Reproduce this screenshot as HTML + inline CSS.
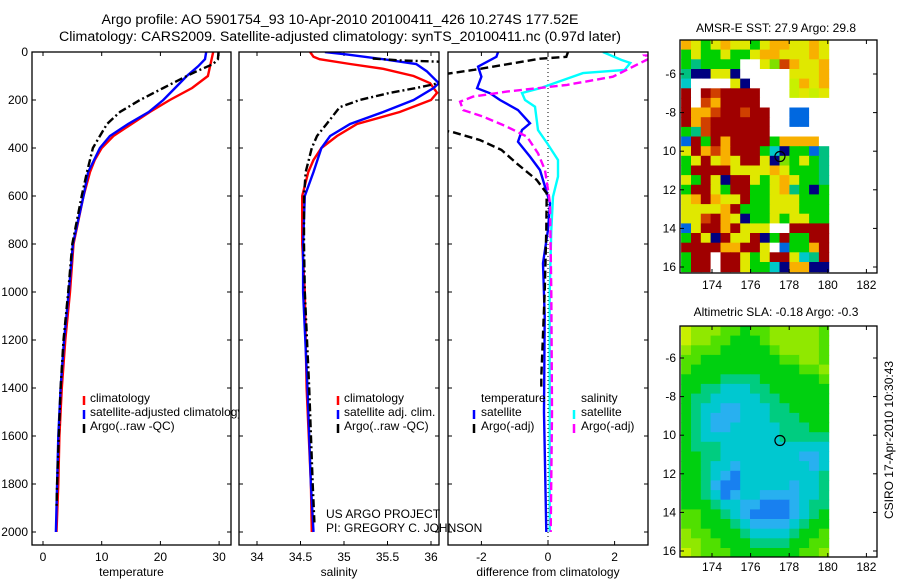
<!DOCTYPE html>
<html><head><meta charset="utf-8"><style>
html,body{margin:0;padding:0;background:#fff;}
svg{display:block;font-family:"Liberation Sans",sans-serif;}
text{fill:#000;}
</style></head><body>
<svg id="fig" width="900" height="580" viewBox="0 0 900 580" xmlns="http://www.w3.org/2000/svg">
<defs>
<clipPath id="c1"><rect x="32" y="52" width="199" height="493"/></clipPath>
<clipPath id="c2"><rect x="239" y="52" width="200" height="493"/></clipPath>
<clipPath id="c3"><rect x="448" y="52" width="200" height="493"/></clipPath>
<clipPath id="cleg"><rect x="32" y="52" width="207" height="493"/></clipPath>
</defs>
<text x="340" y="24" font-size="14.2" text-anchor="middle">Argo profile: AO 5901754_93 10-Apr-2010 20100411_426 10.274S 177.52E</text>
<text x="340" y="41" font-size="14.2" text-anchor="middle">Climatology: CARS2009. Satellite-adjusted climatology: synTS_20100411.nc (0.97d later)</text>
<g id="g"></g>
</svg>
<script>
// ---------- data ----------
const tempClimDepth=[0,100,150,200,250,300,350,400,450,500,600,800,1000,1200,1400,1600,1800,2000];
const tempClimVal=[29.0,28.1,25.4,21.6,18.2,15.1,12.0,10.0,8.8,8.0,6.9,5.2,4.6,3.8,3.2,2.8,2.6,2.3];
const tempSatDepth=[0,30,60,100,150,200,250,300,350,400,450,500,600,800,1000,1200,1400,1600,1800,2000];
const tempSatVal=[27.8,27.6,26.4,24.5,22.5,20.5,18.0,14.5,11.4,9.7,8.7,7.7,6.9,5.1,4.4,3.6,3.0,2.6,2.4,2.2];
const tempArgoDepth=[0,30,50,80,100,150,200,250,300,350,400,500,600,800,1000,1200,1400,1600,1800,1900];
const tempArgoVal=[29.9,29.8,29.0,26.2,24.5,20.5,16.5,13.1,10.9,9.7,8.5,7.5,6.6,5.0,4.3,3.5,3.0,2.7,2.4,2.3];
const salClimDepth=[0,20,30,50,70,100,130,170,200,250,300,350,400,450,500,600,800,1000,1400,1800,2000];
const salClimVal=[34.61,34.65,34.72,35.07,35.45,35.8,35.99,36.07,36.0,35.64,35.15,34.92,34.74,34.65,34.59,34.52,34.52,34.55,34.57,34.62,34.63];
const salSatDepth=[0,10,30,50,80,130,150,200,250,300,350,400,500,600,800,1000,1400,1800,2000];
const salSatVal=[34.78,35.03,35.45,35.83,35.95,36.09,36.03,35.8,35.45,35.07,34.84,34.74,34.65,34.55,34.53,34.53,34.58,34.62,34.65];
const salArgoDepth=[27,35,40,50,120,130,150,170,200,230,300,350,400,500,600,800,1000,1400,1800,1960];
const salArgoVal=[35.33,35.64,36.07,36.3,36.3,36.09,35.83,35.53,35.18,34.95,34.8,34.69,34.63,34.56,34.54,34.54,34.55,34.6,34.64,34.66];
const dTSatDepth=[0,20,61,103,151,172,200,242,297,325,374,436,492,561,630,741,880,1100,1500,2000];
const dTSatVal=[-1.5,-1.55,-2.1,-2.0,-2.13,-1.74,-1.44,-0.9,-0.54,-0.78,-0.9,-0.54,-0.24,-0.09,0.06,0,-0.15,-0.1,-0.12,-0.05];
const dTArgoDepth=[0,20,28,75,100,320,332,367,408,464,533,589,741,1000,1354,1400];
const dTArgoVal=[0.6,0.55,-0.24,-2.25,-3.5,-3.5,-2.9,-2.04,-1.4,-0.94,-0.34,-0.04,-0.05,-0.1,-0.2,-0.2];
const dSSatDepth=[0,33,46,75,88,117,151,171,200,228,325,379,450,519,603,741,1000,2000];
const dSSatVal=[1.65,2.2,2.47,2.3,1.05,0.45,-0.24,-0.78,-0.69,-0.39,-0.3,-0.03,0.3,0.3,0.15,0.1,0.05,0.05];
const dSArgoDepth=[10,15,30,103,137,165,186,207,242,269,311,353,422,492,630,1000,1500,2000];
const dSArgoVal=[3.5,2.9,3.0,1.95,0.57,-1.24,-2.25,-2.64,-2.55,-1.95,-1.24,-0.63,-0.3,-0.09,0.06,0.1,0.12,0.08];
const depthTicks=[0,200,400,600,800,1000,1200,1400,1600,1800,2000];
const tempTicks=[0,10,20,30];
const salTicks=[34,34.5,35,35.5,36];
const diffTicks=[-2,0,2];
const lonTicks=[174,176,178,180,182];
const latTicks=[-6,-8,-10,-12,-14,-16];
// SST grid rows (0.5 deg cells, lon 172.5..180, from lat -4.2 southward)
const sstRows=["OYGYOYYGYOOYYOY","GYGGYGGYOOYYYOY","GTGGGGWWYgrOYYO","TBBYYBWWWWWYYYO","CWWWWYBWWWWyOYO","RWRrRRRRWWWyYyY","RWrORRRRWWWWWWW","ROOrRRrRRWWbbWW","ROrRRRRRRWWbbWW","GTrRRRRRRWWWWWW","bRGRORRRRGOOOOW","YROrORRRGCBGGbT","GYRYOYRRYBgGYGT","GRRRRYYYYOYGGGT","YGRYBRRYGYOYGGT","GRRYGRRGGYOTGBG","YOROYYRGGYYYGGG","YYYYORGGGYYYGGG","YYrROYBGGYGYYGG","bYRRORYYYWWRRRR","GRYBRYYRBGRGGRR","RRRROORRYWbGGOR","GRRWRRYGYRRYCTR","GRRWRRYGGCBOOBB"];
const slaRows=["011122322111112","011223332111112","122233333211112","223333333322112","233333333333221","333344443333332","334455544333333","344555554433333","345566555443333","345666555444333","345665555544433","345555555544444","344455555555555","334455555555665","334556555555565","334567555555554","334677555556554","334576556666554","333455667776544","223345677776543","223334566665433","122333455554332","112233344443322","012223333333221"];
const sstColors={R:"#a00000",r:"#d04000",O:"#f8b000",Y:"#e0e800",y:"#c8f000",G:"#00d000",g:"#80e000",T:"#00c080",C:"#00c8c8",B:"#000080",b:"#0068e0",W:"#ffffff"};
const slaColors=["#c8f000","#90e800","#50e000","#00d010","#00cc80","#00c8d0","#28b0f0","#1880f0"];

// ---------- helpers ----------
const NS="http://www.w3.org/2000/svg";
const G=document.getElementById('g');
function el(tag,attrs,parent){const e=document.createElementNS(NS,tag);for(const k in attrs)e.setAttribute(k,attrs[k]);(parent||G).appendChild(e);return e;}
const yD=d=>52+d*0.24;
const xT=t=>43+t*5.87;
const xS=s=>257+(s-34)*87;
const xDf=v=>548+v*33.3;
function line(depths,vals,xf,color,dash,clip,name){
  let d="";depths.forEach((dp,i)=>{d+=(i?"L":"M")+xf(vals[i]).toFixed(1)+","+yD(dp).toFixed(1);});
  const p=el('path',{d:d,fill:"none",stroke:color,"stroke-width":2.4,"clip-path":"url(#"+clip+")"});
  if(dash)p.setAttribute('stroke-dasharray',dash);
  
  
}
function frame(x,y,w,h,name){
  const r=el('rect',{x:x,y:y,width:w,height:h,fill:"none",stroke:"#000","stroke-width":1.3});
  
  
}
function txt(x,y,s,size,anchor,name,extra){
  const t=el('text',Object.assign({x:x,y:y,"font-size":size,"text-anchor":anchor||"start"},extra||{}));
  t.textContent=s;
  
  
  return t;
}
function tick(x1,y1,x2,y2){const t=el('line',{x1:x1,y1:y1,x2:x2,y2:y2,stroke:"#000","stroke-width":1});}

// ---------- profile panels ----------
const panels=[{x0:32,x1:231,xf:xT,ticks:tempTicks,title:"temperature",lab:v=>String(v)},
{x0:239,x1:439,xf:xS,ticks:salTicks,title:"salinity",lab:v=>String(v)},
{x0:448,x1:648,xf:xDf,ticks:diffTicks,title:"difference from climatology",lab:v=>String(v)}];
panels.forEach((p,i)=>{
  p.ticks.forEach(v=>{const x=p.xf(v);tick(x,545,x,541);tick(x,52,x,56);txt(x,561,p.lab(v),12,"middle","x-tick-label");});
  depthTicks.forEach(d=>{const y=yD(d);tick(p.x0,y,p.x0+4,y);tick(p.x1,y,p.x1-4,y);if(i===0)txt(28,y+4,String(d),12,"end","y-tick-label");});
  txt((p.x0+p.x1)/2,576,p.title,12,"middle","x-axis-title");
});
const z=el('line',{x1:xDf(0),y1:52,x2:xDf(0),y2:545,stroke:"#000","stroke-width":1,"stroke-dasharray":"1,3"});


line(tempClimDepth,tempClimVal,xT,"#f00",null,"c1","temp-climatology-line");
line(tempSatDepth,tempSatVal,xT,"#00f",null,"c1","temp-satellite-adjusted-line");
line(tempArgoDepth,tempArgoVal,xT,"#000","8,3,2,3","c1","temp-argo-line");
line(salClimDepth,salClimVal,xS,"#f00",null,"c2","salinity-climatology-line");
line(salSatDepth,salSatVal,xS,"#00f",null,"c2","salinity-satellite-adjusted-line");
line(salArgoDepth,salArgoVal,xS,"#000","8,3,2,3","c2","salinity-argo-line");
line(dTSatDepth,dTSatVal,xDf,"#00f",null,"c3","diff-temp-satellite-line");
line(dTArgoDepth,dTArgoVal,xDf,"#000","8,4","c3","diff-temp-argo-line");
line(dSSatDepth,dSSatVal,xDf,"#00ffff",null,"c3","diff-salinity-satellite-line");
line(dSArgoDepth,dSArgoVal,xDf,"#ff00ff","8,4","c3","diff-salinity-argo-line");

frame(32,52,199,493,"temperature-plot-frame");
frame(239,52,200,493,"salinity-plot-frame");
frame(448,52,200,493,"difference-plot-frame");

function legItem(mx,tx,y,color,label,name,clip){
  const m=el('line',{x1:mx,y1:y-6,x2:mx,y2:y+3,stroke:color,"stroke-width":2.5});
  
  const t=txt(tx,y,label,12,"start",name);
  if(clip)t.setAttribute('clip-path','url(#'+clip+')');
}
legItem(84,90,402,"#f00","climatology","legend-climatology");
legItem(84,90,416,"#00f","satellite-adjusted climatology","legend-satellite-adjusted","cleg");
legItem(84,90,430,"#000","Argo(..raw -QC)","legend-argo");
legItem(338,344,402,"#f00","climatology","legend-sal-climatology");
legItem(338,344,416,"#00f","satellite adj. clim.","legend-sal-satellite");
legItem(338,344,430,"#000","Argo(..raw -QC)","legend-sal-argo");
txt(481,402,"temperature",12,"start","legend-temperature-heading");
legItem(474,481,416,"#00f","satellite","legend-diff-temp-satellite");
legItem(474,481,430,"#000","Argo(-adj)","legend-diff-temp-argo");
txt(581,402,"salinity",12,"start","legend-salinity-heading");
legItem(574,581,416,"#00ffff","satellite","legend-diff-sal-satellite");
legItem(574,581,430,"#ff00ff","Argo(-adj)","legend-diff-sal-argo");
txt(326,518,"US ARGO PROJECT",12,"start","project-credit");
txt(326,532,"PI: GREGORY C. JOHNSON",12,"start","pi-credit");

// ---------- maps ----------
const mapX0=680,mapX1=877,degPx=19.3;
const xLon=l=>712+(l-174)*degPx;
function map(top,bottom,lat6y,rows,colorOf,name,title,titleY,labY){
  const yLat=la=>lat6y+(-6-la)*degPx;
  const topLat=-6+(lat6y-top)/degPx;
  rows.forEach((row,i)=>{
    for(let j=0;j<row.length;j++){
      const lon=172.4+j*0.51, la=topLat-i*0.5;
      const x=xLon(lon),y=yLat(la);
      const h=Math.min(degPx*0.5+0.5,bottom-y);
      if(h<=0)continue;
      const c=el('rect',{x:x.toFixed(1),y:y.toFixed(1),width:(degPx*0.51+0.5).toFixed(1),height:h.toFixed(1),fill:colorOf(row[j])});
      
      
    }
  });
  const cx=xLon(177.52),cy=yLat(-10.274);
  const o=el('circle',{cx:cx,cy:cy,r:5,fill:"none",stroke:"#000","stroke-width":1.2});
  
  frame(mapX0,top,mapX1-mapX0,bottom-top,name+'-frame');
  lonTicks.forEach(l=>{const x=xLon(l);tick(x,bottom,x,bottom-4);tick(x,top,x,top+4);txt(x,labY,String(l),12,"middle",name+"-lon-label");});
  latTicks.forEach(la=>{const y=yLat(la);tick(mapX0,y,mapX0+4,y);tick(mapX1,y,mapX1-4,y);txt(676,y+4,la>-10?String(la):String(-la),12,"end",name+"-lat-label");});
  txt(776,titleY,title,12,"middle",name+"-title");
}
map(40,273,74,sstRows,c=>sstColors[c],"sst-map","AMSR-E SST: 27.9 Argo: 29.8",32,289);
map(326,557,358,slaRows,c=>slaColors[+c],"sla-map","Altimetric SLA: -0.18 Argo: -0.3",316,571);
txt(0,0,"CSIRO 17-Apr-2010 10:30:43",12,"middle","timestamp-label",{transform:"translate(893,440) rotate(-90)"});
</script>
</body></html>
